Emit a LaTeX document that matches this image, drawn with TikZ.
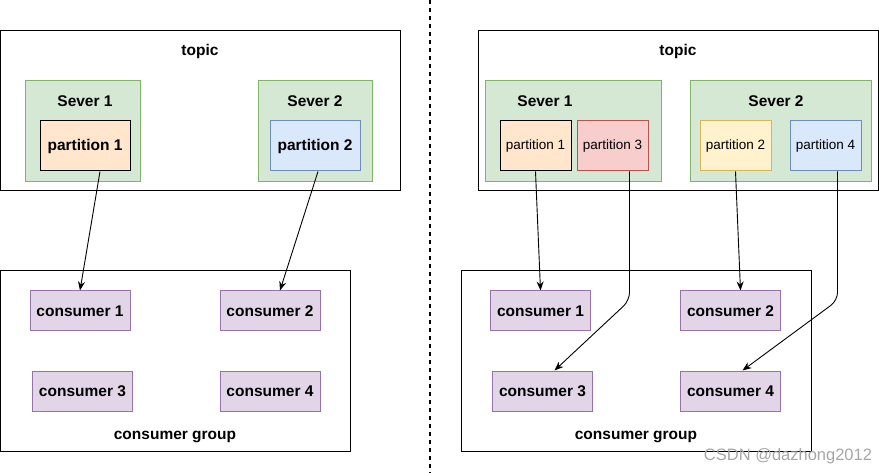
\documentclass[tikz,border=0pt]{standalone}
\usepackage{fontspec}
\setmainfont{Liberation Sans}
\usetikzlibrary{arrows.meta}
\definecolor{srvfill}{HTML}{D5E8D4}
\definecolor{srvline}{HTML}{82B366}
\definecolor{orgfill}{HTML}{FFE6CC}
\definecolor{redfill}{HTML}{F8CECC}
\definecolor{redline}{HTML}{B85450}
\definecolor{yelfill}{HTML}{FFF2CC}
\definecolor{yelline}{HTML}{D6B656}
\definecolor{bluefill}{HTML}{DAE8FC}
\definecolor{blueline}{HTML}{6C8EBF}
\definecolor{confill}{HTML}{E1D5E7}
\definecolor{conline}{HTML}{9673A6}
\newcommand{\bigbold}{\bfseries\fontsize{15.5}{18}\selectfont}
\tikzset{
  frame/.style={draw=black, line width=1pt, inner sep=0pt},
  server/.style={draw=srvline, fill=srvfill, line width=1pt, inner sep=0pt},
  part/.style={draw, line width=1pt, minimum width=90pt, minimum height=50pt, inner sep=0pt, font=\bigbold},
  smallpart/.style={part, minimum width=71pt, font=\fontsize{13.5}{16}\selectfont},
  cons/.style={draw=conline, fill=confill, line width=1pt, minimum width=100pt, minimum height=40pt, inner sep=0pt, font=\bigbold},
  lbl/.style={inner sep=0pt, font=\bigbold},
  link/.style={->, line width=0.9pt},
}
\begin{document}
\begin{tikzpicture}[x=1pt, y=-1pt, >={Stealth[length=9pt, width=7pt]}]
    \useasboundingbox (0,0) rectangle (879,473);
    \draw[line width=1.5pt, dash pattern=on 4pt off 4pt] (430,0) -- (430,473);

    % left side
    \node[frame, minimum width=400pt, minimum height=160pt] (topicL) at (200,111) {};
    \node[lbl] (topicLtxt) at (200,51) {topic};
    \node[server, minimum width=115pt, minimum height=101pt] (s1L) at (82.5,131.5) {};
    \node[lbl] (s1Ltxt) at (85,101) {Sever 1};
    \node[part, fill=orgfill] (p1L) at (85,146) {partition 1};
    \node[server, minimum width=114pt, minimum height=101pt] (s2L) at (315,131.5) {};
    \node[lbl] (s2Ltxt) at (315,101) {Sever 2};
    \node[part, draw=blueline, fill=bluefill] (p2L) at (315,146) {partition 2};

    \node[frame, minimum width=350pt, minimum height=180pt] (groupL) at (175,361) {};
    \node[cons] (c1L) at (80,311) {consumer 1};
    \node[cons] (c2L) at (270,311) {consumer 2};
    \node[cons] (c3L) at (82.5,391) {consumer 3};
    \node[cons] (c4L) at (270,391) {consumer 4};
    \node[lbl] (groupLtxt) at (175,437) {consumer group};

    \draw[link] ([xshift=15pt]p1L.south) -- (c1L.north);
    \draw[link] ([xshift=3pt]p2L.south) -- ([xshift=10pt]c2L.north);

    % right side
    \node[frame, minimum width=400pt, minimum height=160pt] (topicR) at (678,111) {};
    \node[lbl] (topicRtxt) at (678,51) {topic};
    \node[server, minimum width=176pt, minimum height=101pt] (s1R) at (573,131.5) {};
    \node[lbl] (s1Rtxt) at (545,101) {Sever 1};
    \node[smallpart, fill=orgfill] (p1R) at (535.5,146) {partition 1};
    \node[smallpart, draw=redline, fill=redfill] (p3R) at (612.5,146) {partition 3};
    \node[server, minimum width=181pt, minimum height=101pt] (s2R) at (780.5,131.5) {};
    \node[lbl] (s2Rtxt) at (776,101) {Sever 2};
    \node[smallpart, draw=yelline, fill=yelfill] (p2R) at (735.5,146) {partition 2};
    \node[smallpart, draw=blueline, fill=bluefill] (p4R) at (825.5,146) {partition 4};

    \node[frame, minimum width=350pt, minimum height=180pt] (groupR) at (636,361) {};
    \node[cons] (c1R) at (540.5,311) {consumer 1};
    \node[cons] (c2R) at (730.5,311) {consumer 2};
    \node[cons] (c3R) at (542.5,391) {consumer 3};
    \node[cons] (c4R) at (730.5,391) {consumer 4};
    \node[lbl] (groupRtxt) at (636,437) {consumer group};

    \draw[link] (p1R.south) -- (c1R.north);
    \draw[link] (p2R.south) -- ([xshift=10pt]c2R.north);
    \draw[link, rounded corners=8pt] ([xshift=17pt]p3R.south) -- ++(0,129) -- ([xshift=12pt]c3R.north);
    \draw[link, rounded corners=8pt] ([xshift=12pt]p4R.south) -- ++(0,129) -- ([xshift=12pt]c4R.north);

    \node[inner sep=0pt, text=black!35, font=\fontsize{16.5}{18}\selectfont] (mark) at (788,456) {CSDN @dazhong2012};
\end{tikzpicture}
\end{document}
